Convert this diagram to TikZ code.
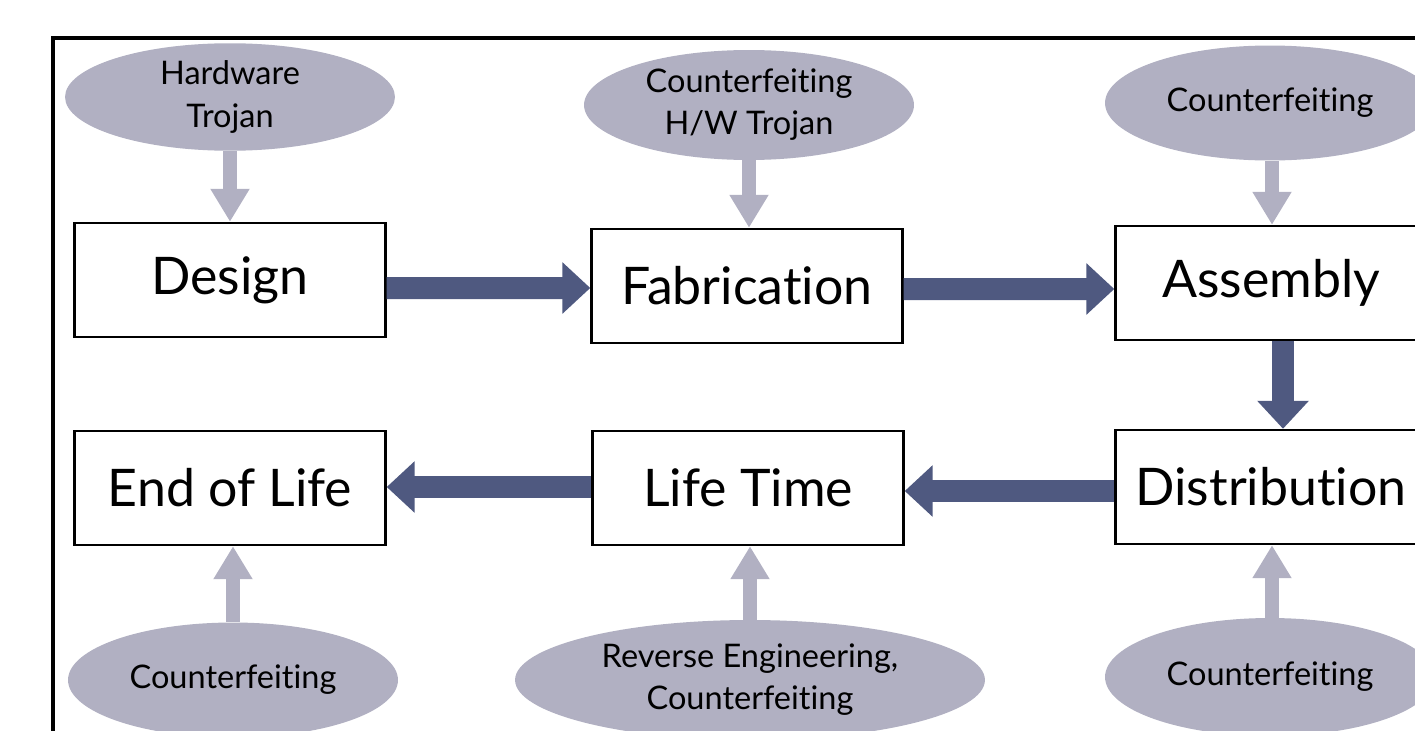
\documentclass[tikz,border=0pt]{standalone}
\usepackage{fontspec}
\setmainfont{Lato}[Ligatures=NoCommon]
\usetikzlibrary{shapes.geometric,arrows.meta}

\definecolor{threatgray}{HTML}{B1B0C2}
\definecolor{flowblue}{HTML}{4F5980}

\begin{document}
\begin{tikzpicture}[
  x=0.02cm, y=-0.02cm,
  stage/.style={rectangle, draw, line width=1.4pt, fill=white, minimum width=6.22cm, minimum height=2.28cm, font=\fontsize{29.5}{34}\selectfont},
  threat/.style={ellipse, fill=threatgray, minimum width=6.6cm, minimum height=2.15cm, align=center, inner sep=0pt, font=\fontsize{18.5}{24}\selectfont},
  flow/.style={draw=flowblue, line width=0.44cm, -{Triangle[length=0.56cm, width=1.0cm]}},
  attack/.style={draw=threatgray, line width=0.28cm, -{Triangle[length=0.66cm, width=0.74cm]}}
]
\useasboundingbox (0,0) rectangle (1415,730);
\clip (0,0) rectangle (1415,730);

% frame
\draw[line width=0.08cm] (53,38) rectangle (1500,800);

% supply chain stages
\node [stage] (design) at (230,280) {Design};
\node [stage] (fab) at (747,286) {Fabrication};
\node [stage] (asm) at (1271,283) {Assembly};
\node [stage] (eol) at (230,488) {End of Life};
\node [stage] (life) at (748,488) {Life Time};
\node [stage] (dist) at (1271,487) {Distribution};

% threats
\node [threat] (hwtrojan) at (230,97) {Hardware\\ Trojan};
\node [threat, minimum height=2.2cm] (fabthreat) at (749,105) {Counterfeiting\\ H/W Trojan};
\node [threat, minimum height=2.3cm] (asmthreat) at (1270,103) {Counterfeiting};
\node [threat, minimum height=2.3cm] (eolthreat) at (233,680) {Counterfeiting};
\node [threat, minimum width=9.4cm, minimum height=2.4cm] (lifethreat) at (750,680) {Reverse Engineering,\\ Counterfeiting};
\node [threat, minimum height=2.36cm] (distthreat) at (1270,677) {Counterfeiting};

% attacks on each stage
\path [attack] (hwtrojan.south) -- (hwtrojan.south |- design.north);
\path [attack] (fabthreat.south) -- (fabthreat.south |- fab.north);
\path [attack] ([xshift=0.04cm]asmthreat.south) -- ([xshift=0.04cm]asmthreat.south |- asm.north);
\path [attack] (eolthreat.north) -- (eolthreat.north |- eol.south);
\path [attack] (lifethreat.north) -- (lifethreat.north |- life.south);
\path [attack] ([xshift=0.04cm]distthreat.north) -- ([xshift=0.04cm]distthreat.north |- dist.south);

% flow between stages
\path [flow] ([yshift=-0.16cm]design.east) -- ([yshift=-0.04cm]fab.west);
\path [flow] ([yshift=-0.06cm]fab.east) -- ([yshift=-0.12cm]asm.west);
\path [flow] ([xshift=0.24cm]asm.south) -- ([xshift=0.24cm]asm.south |- dist.north);
\path [flow] ([yshift=-0.08cm]dist.west) -- ([yshift=-0.06cm]life.west -| life.east);
\path [flow] ([yshift=0.02cm]life.west) -- ([yshift=0.02cm]life.west -| eol.east);
\end{tikzpicture}
\end{document}
